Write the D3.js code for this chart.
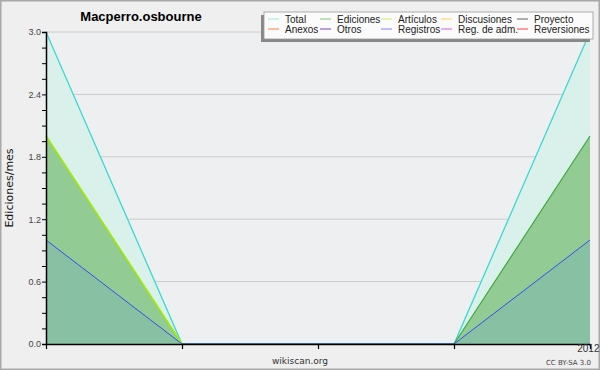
<!DOCTYPE html>
<html>
<head>
<meta charset="utf-8">
<script src="https://cdn.jsdelivr.net/npm/d3@7"></script>
<style>
  body { margin: 0; background: #efefef; }
  svg { display: block; font-family: "DejaVu Sans", sans-serif; }
</style>
</head>
<body>
<div id="chart"></div>
<script>
// meses (el último lleva la etiqueta del año)
const months = ["2011-09", "2011-10", "2011-11", "2011-12", "2012-01"];
const monthLabels = ["", "", "", "", "2012"];

// ediciones por mes
const total = [3, 0, 0, 0, 3];
const ediciones = [2, 0, 0, 0, 2];
const articulos = [2, 0, 0, 0, 0];
const registros = [1, 0, 0, 0, 1];

const yTicks = [0, 0.6, 1.2, 1.8, 2.4, 3.0];

const legendItems = [
    { name: "Total", color: "#a6e4e0" },
    { name: "Ediciones", color: "#80c880" },
    { name: "Artículos", color: "#c8ec60" },
    { name: "Discusiones", color: "#ffd060" },
    { name: "Proyecto", color: "#606060" },
    { name: "Anexos", color: "#ff8040" },
    { name: "Otros", color: "#8040c0" },
    { name: "Registros", color: "#8080ff" },
    { name: "Reg. de adm.", color: "#d060e0" },
    { name: "Reversiones", color: "#ff4040" }
];

const width = 600, height = 370;
const margin = { top: 32, right: 10, bottom: 26, left: 46 };

const svg = d3.select("#chart").append("svg")
    .attr("width", width)
    .attr("height", height);

// marco exterior
svg.append("rect")
    .attr("x", 0.5).attr("y", 0.5)
    .attr("width", width - 1).attr("height", height - 1)
    .attr("fill", "#efefef")
    .attr("stroke", "#a8a8a8")
    .attr("stroke-width", 2);

const x = d3.scalePoint()
    .domain(months)
    .range([margin.left, width - margin.right]);

const y = d3.scaleLinear()
    .domain([0, 3])
    .range([height - margin.bottom, margin.top]);

// fondo del área del gráfico
svg.append("rect")
    .attr("x", margin.left).attr("y", margin.top)
    .attr("width", width - margin.left - margin.right)
    .attr("height", height - margin.top - margin.bottom)
    .attr("fill", "#eeeff0");

// rejilla
svg.append("g")
    .selectAll("line")
    .data(yTicks.slice(1))
    .enter()
    .append("line")
    .attr("x1", margin.left).attr("x2", width - margin.right)
    .attr("y1", d => y(d)).attr("y2", d => y(d))
    .attr("stroke", "#cccccc")
    .attr("stroke-width", 1);

const area = vals => d3.area()
    .x((d, i) => x(months[i]))
    .y0(y(0))
    .y1(d => y(d))(vals);

const line = vals => d3.line()
    .x((d, i) => x(months[i]))
    .y(d => y(d))(vals);

// áreas
svg.append("path").attr("d", area(total)).attr("fill", "#daf1eb");
svg.append("path").attr("d", area(ediciones)).attr("fill", "#92cc94");
svg.append("path").attr("d", area(registros)).attr("fill", "#88c0a4");

// líneas
svg.append("path").attr("d", line(total))
    .attr("fill", "none").attr("stroke", "#3cd8d0").attr("stroke-width", 1.3);
svg.append("path").attr("d", line(ediciones))
    .attr("fill", "none").attr("stroke", "#40a840").attr("stroke-width", 1.2);
svg.append("path").attr("d", line(articulos.slice(0, 2)))
    .attr("fill", "none").attr("stroke", "#a8f000").attr("stroke-width", 1.5);
svg.append("path").attr("d", line(registros))
    .attr("fill", "none").attr("stroke", "#3a4cf0").attr("stroke-width", 1);

// eje Y
const yAxis = svg.append("g")
    .attr("transform", `translate(${margin.left},0)`)
    .call(d3.axisLeft(y)
        .tickValues(d3.range(0, 3.001, 0.15))
        .tickSize(4)
        .tickFormat(d => yTicks.some(t => Math.abs(t - d) < 1e-6) ? d.toFixed(1) : ""));
yAxis.select(".domain").attr("stroke", "#000").attr("stroke-width", 1.5);
yAxis.selectAll(".tick line").attr("stroke", "#000");
yAxis.selectAll(".tick text")
    .attr("fill", "#444")
    .style("font-size", "9px")
    .attr("x", -5);

// eje X
const xAxis = svg.append("g")
    .attr("transform", `translate(0,${height - margin.bottom})`)
    .call(d3.axisBottom(x)
        .tickSize(5)
        .tickSizeOuter(0)
        .tickFormat((d, i) => monthLabels[i]));
xAxis.select(".domain").attr("stroke", "#000").attr("stroke-width", 1.5);
xAxis.selectAll(".tick line").attr("stroke", "#000").attr("stroke-width", 1.2);
xAxis.selectAll(".tick text")
    .attr("fill", "#333")
    .attr("y", -1)
    .attr("dy", "0.9em")
    .attr("text-anchor", "end")
    .attr("x", 9)
    .style("font-size", "10px");

// título
svg.append("text")
    .attr("x", 141).attr("y", 21)
    .attr("text-anchor", "middle")
    .attr("font-weight", "bold")
    .style("font-family", "'Liberation Sans', sans-serif")
    .style("font-size", "13px")
    .text("Macperro.osbourne");

// etiqueta del eje Y
svg.append("text")
    .attr("transform", "translate(13,188) rotate(-90)")
    .attr("text-anchor", "middle")
    .style("font-size", "11px")
    .attr("fill", "#111")
    .text("Ediciones/mes");

// pie
svg.append("text")
    .attr("x", 300).attr("y", 364)
    .attr("text-anchor", "middle")
    .style("font-size", "9px")
    .attr("fill", "#333")
    .text("wikiscan.org");
svg.append("text")
    .attr("x", 591).attr("y", 365)
    .attr("text-anchor", "end")
    .style("font-size", "7px")
    .attr("fill", "#444")
    .text("CC BY-SA 3.0");

// leyenda
const lg = svg.append("g");
lg.append("rect")
    .attr("x", 261).attr("y", 15)
    .attr("width", 329).attr("height", 27)
    .attr("fill", "#888");
lg.append("rect")
    .attr("x", 264).attr("y", 12)
    .attr("width", 329).attr("height", 27)
    .attr("fill", "#fbfbfb")
    .attr("stroke", "#999")
    .attr("stroke-width", 0.8);

const colX = [268, 320, 381, 441, 517];
const rowY = [19, 29];
legendItems.forEach((d, i) => {
    const cx = colX[i % 5], cy = rowY[Math.floor(i / 5)];
    lg.append("line")
        .attr("x1", cx).attr("x2", cx + 11)
        .attr("y1", cy).attr("y2", cy)
        .attr("stroke", d.color).attr("stroke-width", 1);
    lg.append("text")
        .attr("x", cx + 17).attr("y", cy)
        .attr("dy", "0.35em")
        .style("font-family", "'Liberation Sans', sans-serif")
        .style("font-size", "10px")
        .attr("fill", "#222")
        .text(d.name);
});
</script>
</body>
</html>
